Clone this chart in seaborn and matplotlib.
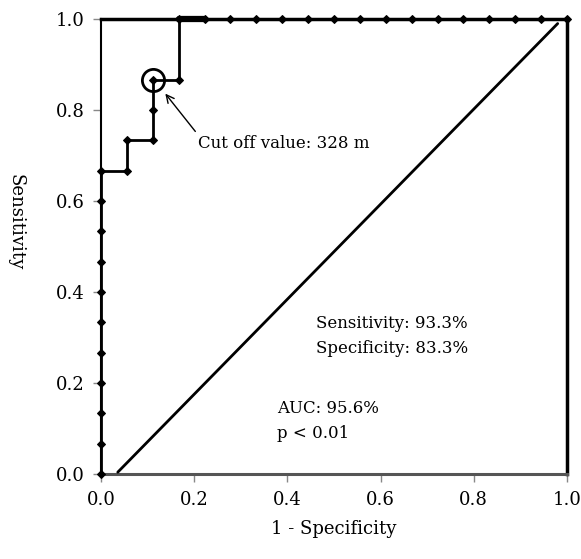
import numpy as np
import pandas as pd
import matplotlib
matplotlib.use("Agg")
import matplotlib.pyplot as plt
import seaborn as sns

### Data
# ROC curve: 18 negatives (x step 1/18), 15 positives (y step 1/15)
roc_fpr = [0.0] * 11 + [1/18, 1/18, 2/18, 2/18, 2/18, 3/18, 3/18] + \
          [k / 18 for k in range(4, 19)]
roc_tpr = [k / 15 for k in range(0, 11)] + [10/15, 11/15, 11/15, 12/15, 13/15, 13/15, 1.0] + \
          [1.0] * 15

# reference line as drawn
diag_x = [0.036, 0.98]
diag_y = [0.004, 0.99]

cutoff_x = 2 / 18
cutoff_y = 13 / 15

x_ticks = [0.0, 0.2, 0.4, 0.6, 0.8, 1.0]
y_ticks = [0.0, 0.2, 0.4, 0.6, 0.8, 1.0]

### Style
sns.set_theme(style="white")
plt.rcParams["font.family"] = ["DejaVu Serif", "DejaVu Sans"]
plt.rcParams["text.color"] = "black"
plt.rcParams["axes.labelcolor"] = "black"
plt.rcParams["xtick.labelcolor"] = "black"
plt.rcParams["ytick.labelcolor"] = "black"

fig = plt.figure(figsize=(5.81, 5.59), dpi=100)
ax = fig.add_axes([101/581, 1 - 474/559, 466/581, 455/559])

df_roc = pd.DataFrame({"fpr": roc_fpr, "tpr": roc_tpr})
sns.lineplot(data=df_roc, x="fpr", y="tpr", sort=False, estimator=None,
             color="black", linewidth=2.0, marker="D", markersize=3.8,
             markeredgecolor="black", ax=ax, zorder=5, clip_on=False)
# thicker stretch where the points overlap at the top
sns.lineplot(x=roc_fpr[17:19], y=roc_tpr[17:19], sort=False, estimator=None,
             color="black", linewidth=4.5, ax=ax, zorder=5, clip_on=False)

sns.lineplot(x=diag_x, y=diag_y, sort=False, estimator=None,
             color="black", linewidth=2.0, ax=ax, zorder=4)

# cut off circle and arrow
ax.plot([cutoff_x], [cutoff_y], marker="o", markersize=16, markerfacecolor="none",
        markeredgecolor="black", markeredgewidth=2.0, zorder=6)
ax.annotate("Cut off value: 328 m", xy=(0.138, 0.836), xytext=(0.208, 0.727),
            fontsize=12, va="center", ha="left", color="black",
            arrowprops=dict(arrowstyle="->", color="black", lw=1.0,
                            shrinkA=0, shrinkB=0, mutation_scale=14,
                            relpos=(0.0, 1.0)))

ax.text(0.461, 0.33, "Sensitivity: 93.3%", fontsize=12, va="center", ha="left")
ax.text(0.461, 0.275, "Specificity: 83.3%", fontsize=12, va="center", ha="left")
ax.text(0.378, 0.145, "AUC: 95.6%", fontsize=12, va="center", ha="left")
ax.text(0.378, 0.09, "p < 0.01", fontsize=12, va="center", ha="left")

ax.set_xlim(0, 1)
ax.set_ylim(0, 1)
ax.set_xticks(x_ticks)
ax.set_yticks(y_ticks)
ax.set_xticklabels([f"{t:.1f}" for t in x_ticks], fontsize=13)
ax.set_yticklabels([f"{t:.1f}" for t in y_ticks], fontsize=13)
ax.tick_params(axis="both", direction="out", length=6, width=1.0, color="#888888",
               bottom=True, left=True, pad=6)
ax.set_xlabel("1 - Specificity", fontsize=13, labelpad=8)
ax.set_ylabel("")
fig.text(15/581, 1 - 222/559, "Sensitivity", fontsize=13, rotation=-90,
         ha="center", va="center")

for side in ["top", "right"]:
    ax.spines[side].set_visible(True)
    ax.spines[side].set_color("black")
    ax.spines[side].set_linewidth(2.5)
ax.spines["left"].set_color("black")
ax.spines["left"].set_linewidth(1.5)
ax.spines["bottom"].set_color("#555555")
ax.spines["bottom"].set_linewidth(2.2)

fig.savefig("out.png", dpi=100)
